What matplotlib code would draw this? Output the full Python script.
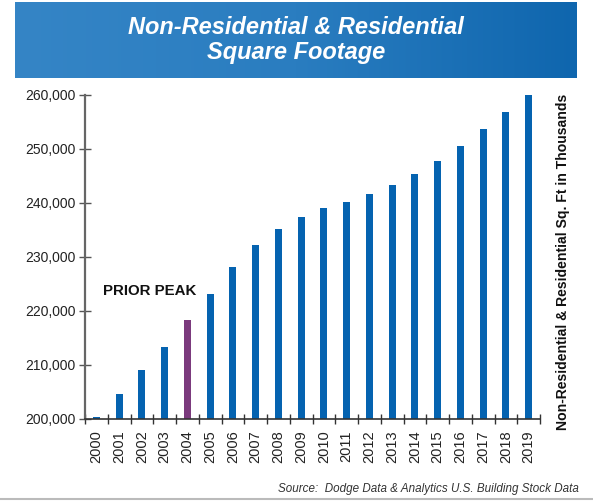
import numpy as np
import matplotlib
matplotlib.use('Agg')
import matplotlib.pyplot as plt

plt.rcParams['font.family'] = ['Liberation Sans', 'DejaVu Sans']

# data (thousands of sq. ft)
years = [str(y) for y in range(2000, 2020)]
values = [200300, 204600, 209000, 213400, 218300, 223100, 228200, 232200,
          235200, 237400, 239100, 240200, 241600, 243400, 245300, 247800,
          250500, 253700, 256900, 260000]
peak_year = '2004'

blue = '#0563b0'
purple = '#7b3a7d'

fig = plt.figure(figsize=(5.93, 5.01), dpi=100)

# title banner with a left-to-right gradient
bax = fig.add_axes([15 / 593, 1 - 78 / 501, 562 / 593, 76 / 501])
grad = np.linspace(0, 1, 256).reshape(1, -1)
cmap = matplotlib.colors.LinearSegmentedColormap.from_list(
    'banner', ['#3585c6', '#2a7dc0', '#0f66ae'])
bax.imshow(grad, aspect='auto', cmap=cmap, extent=[0, 1, 0, 1])
bax.set_xlim(0, 1)
bax.set_ylim(0, 1)
bax.axis('off')
bax.text(0.5, 0.5, 'Non-Residential & Residential\nSquare Footage',
         ha='center', va='center', color='white', fontsize=17,
         fontweight='bold', fontstyle='italic', linespacing=1.1)

# main chart
ax = fig.add_axes([85 / 593, 82 / 501, 455 / 593, 324 / 501])
x = np.arange(len(years))
colors = [purple if y == peak_year else blue for y in years]
ax.bar(x, values, width=0.31, color=colors, zorder=2)

ax.set_xlim(-0.5, len(years) - 0.5)
ax.set_ylim(200000, 260000)
ax.set_yticks(range(200000, 260001, 10000))
ax.set_yticklabels([f'{v:,}' for v in range(200000, 260001, 10000)])
ax.set_xticks(x)
ax.set_xticklabels(years, rotation=90)
ax.set_xticks(np.arange(-0.5, len(years), 1.0), minor=True)

ax.tick_params(axis='x', which='major', length=0, pad=8, labelsize=10.5,
               labelcolor='#222222')
ax.tick_params(axis='x', which='minor', direction='inout', length=7,
               width=1, color='#333333')
ax.tick_params(axis='y', direction='inout', length=8, width=1,
               color='#555555', labelsize=10, labelcolor='#222222', pad=3)

for s in ['top', 'right']:
    ax.spines[s].set_visible(False)
ax.spines['left'].set_color('#666666')
ax.spines['left'].set_linewidth(1.6)
ax.spines['bottom'].set_color('#333333')
ax.spines['bottom'].set_linewidth(1.2)

ax.text(0.3, 223700, 'PRIOR PEAK', fontsize=10.8, fontweight='bold',
        ha='left', va='center', color='#111111')

fig.text(563 / 593, (501 - 262) / 501,
         'Non-Residential & Residential Sq. Ft in Thousands',
         rotation=90, ha='center', va='center', fontsize=10.1,
         fontweight='bold', color='#111111')

fig.text(579 / 593, (501 - 489) / 501,
         'Source:  Dodge Data & Analytics U.S. Building Stock Data',
         ha='right', va='center', fontsize=8.4, fontstyle='italic',
         color='#333333')

fig.add_artist(plt.Line2D([0, 1], [2 / 501, 2 / 501], color='#bbbbbb',
                          linewidth=1.5, transform=fig.transFigure))

fig.savefig('out.png', dpi=100)
